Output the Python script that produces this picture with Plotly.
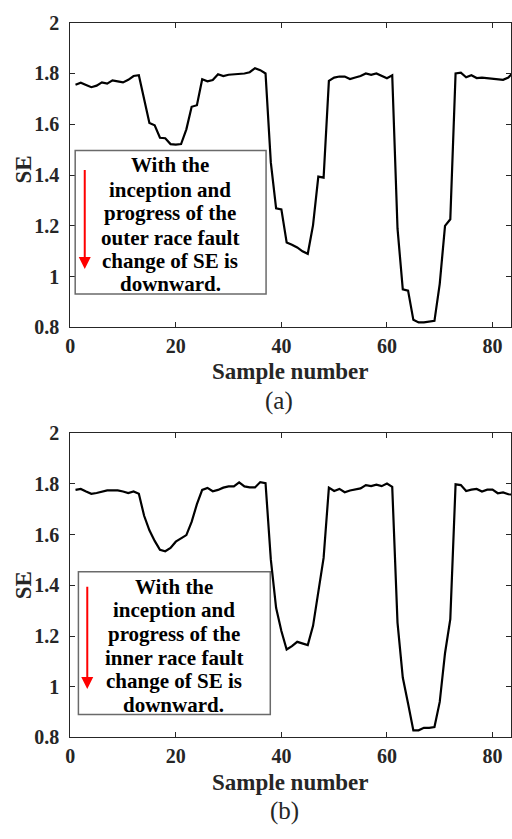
import plotly.graph_objects as go
from plotly.subplots import make_subplots

# Sample entropy (SE) per sample, outer race fault record (a)
samples_a = list(range(1, 85))
se_outer = [
    1.756, 1.764, 1.755, 1.746, 1.752, 1.765, 1.760, 1.773, 1.769, 1.765,
    1.775, 1.790, 1.793, 1.700, 1.605, 1.596, 1.547, 1.545, 1.522, 1.520,
    1.522, 1.580, 1.669, 1.675, 1.777, 1.769, 1.774, 1.797, 1.790, 1.795,
    1.797, 1.798, 1.800, 1.805, 1.821, 1.813, 1.800, 1.450, 1.269, 1.265,
    1.135, 1.126, 1.115, 1.100, 1.090, 1.203, 1.394, 1.390, 1.771, 1.784,
    1.788, 1.788, 1.778, 1.784, 1.790, 1.800, 1.795, 1.800, 1.790, 1.781,
    1.793, 1.190, 0.950, 0.945, 0.830, 0.820, 0.820, 0.822, 0.826, 0.972,
    1.200, 1.226, 1.800, 1.803, 1.785, 1.793, 1.782, 1.784, 1.782, 1.781,
    1.778, 1.775, 1.784, 1.806,
]

# Sample entropy (SE) per sample, inner race fault record (b)
samples_b = list(range(1, 85))
se_inner = [
    1.776, 1.780, 1.770, 1.761, 1.764, 1.770, 1.774, 1.774, 1.774, 1.770,
    1.764, 1.770, 1.761, 1.674, 1.617, 1.575, 1.540, 1.534, 1.547, 1.572,
    1.585, 1.598, 1.650, 1.720, 1.776, 1.784, 1.771, 1.776, 1.785, 1.790,
    1.790, 1.806, 1.790, 1.786, 1.786, 1.807, 1.803, 1.502, 1.311, 1.220,
    1.147, 1.160, 1.177, 1.171, 1.164, 1.240, 1.368, 1.508, 1.785, 1.772,
    1.780, 1.767, 1.774, 1.778, 1.782, 1.795, 1.791, 1.797, 1.791, 1.801,
    1.788, 1.253, 1.036, 0.934, 0.828, 0.828, 0.838, 0.838, 0.841, 0.940,
    1.132, 1.266, 1.798, 1.795, 1.772, 1.777, 1.780, 1.770, 1.777, 1.777,
    1.763, 1.766, 1.759, 1.757,
]

x_ticks = [0, 20, 40, 60, 80]
y_ticks = [0.8, 1.0, 1.2, 1.4, 1.6, 1.8, 2.0]
y_tick_text = ["0.8", "1", "1.2", "1.4", "1.6", "1.8", "2"]

note_outer = ["With the", "inception and", "progress of the",
              "outer race fault", "change of SE is", "downward."]
note_inner = ["With the", "inception and", "progress of the",
              "inner race fault", "change of SE is", "downward."]

W, H = 512, 839
INK = "#262626"
SERIF = "Liberation Serif, serif"

fig = make_subplots(rows=2, cols=1)

fig.add_trace(go.Scatter(x=samples_a, y=se_outer, mode="lines",
                         line=dict(color="black", width=2.2),
                         showlegend=False), row=1, col=1)
fig.add_trace(go.Scatter(x=samples_b, y=se_inner, mode="lines",
                         line=dict(color="black", width=2.2),
                         showlegend=False), row=2, col=1)

x_dom = [66 / W, 1.0]
dom_top = [1 - 325 / H, 1 - 12 / H]
dom_bot = [1 - 746 / H, 1 - 433.5 / H]

axis_common = dict(showline=True, linecolor=INK, linewidth=1, mirror="ticks",
                   ticks="inside", ticklen=5, tickcolor=INK, tickwidth=1,
                   showgrid=False, zeroline=False,
                   tickfont=dict(family=SERIF, size=20, color=INK, weight="bold"))

for i, dom in ((1, dom_top), (2, dom_bot)):
    xa = "xaxis" if i == 1 else "xaxis2"
    ya = "yaxis" if i == 1 else "yaxis2"
    fig.update_layout({
        xa: dict(axis_common, domain=x_dom, range=[0, 83.5],
                 tickvals=x_ticks, ticklabelstandoff=1),
        ya: dict(axis_common, domain=dom, range=[0.8, 2.0],
                 tickvals=y_ticks, ticktext=y_tick_text, ticklabelstandoff=6),
    })

annotations = []
shapes = []


def add_panel(xref, yref, y_title_px, x_title_px, cap_px, cap, box, arrow, lines,
              text_x, line_ys):
    # axis titles and caption
    annotations.append(dict(text="<b>SE</b>", xref="paper", yref="paper",
                            x=19 / W, y=1 - y_title_px / H, textangle=-90,
                            showarrow=False, xanchor="center", yanchor="middle",
                            font=dict(family=SERIF, size=23, color=INK)))
    annotations.append(dict(text="<b>Sample number</b>", xref="paper", yref="paper",
                            x=289 / W, y=1 - x_title_px / H, showarrow=False,
                            xanchor="center", yanchor="middle",
                            font=dict(family=SERIF, size=23, color=INK)))
    annotations.append(dict(text=cap, xref="paper", yref="paper",
                            x=cap_px[0] / W, y=1 - cap_px[1] / H, showarrow=False,
                            xanchor="center", yanchor="middle",
                            font=dict(family=SERIF, size=25, color=INK)))
    # note box
    shapes.append(dict(type="rect", xref=xref, yref=yref,
                       x0=box[0], x1=box[1], y0=box[2], y1=box[3],
                       line=dict(color="#6a6a6a", width=1.5),
                       fillcolor="white", layer="above"))
    for txt, yy in zip(lines, line_ys):
        annotations.append(dict(text="<b>" + txt + "</b>", xref=xref, yref=yref,
                                x=text_x, y=yy, showarrow=False,
                                xanchor="center", yanchor="middle",
                                font=dict(family=SERIF, size=21, color="black")))
    # red downward arrow
    annotations.append(dict(text="", xref=xref, yref=yref, axref=xref, ayref=yref,
                            x=arrow[0], y=arrow[2], ax=arrow[0], ay=arrow[1],
                            showarrow=True, arrowhead=2, arrowsize=1.2,
                            arrowwidth=2, arrowcolor="red", standoff=0))


add_panel("x", "y", 163, 370, (277, 400), "(a)",
          box=(0.94, 37.1, 0.932, 1.497), arrow=(2.75, 1.426, 1.03),
          lines=note_outer, text_x=18.97,
          line_ys=[1.439, 1.343, 1.251, 1.154, 1.062, 0.970])
add_panel("x2", "y2", 590, 792, (283, 822), "(b)",
          box=(1.55, 37.9, 0.890, 1.453), arrow=(3.23, 1.40, 0.991),
          lines=note_inner, text_x=19.6,
          line_ys=[1.393, 1.304, 1.208, 1.115, 1.021, 0.928])

fig.update_layout(width=W, height=H, margin=dict(l=0, r=0, t=0, b=0),
                  paper_bgcolor="white", plot_bgcolor="white",
                  font=dict(family=SERIF, color=INK),
                  annotations=annotations, shapes=shapes)

fig.write_html("out.html")
